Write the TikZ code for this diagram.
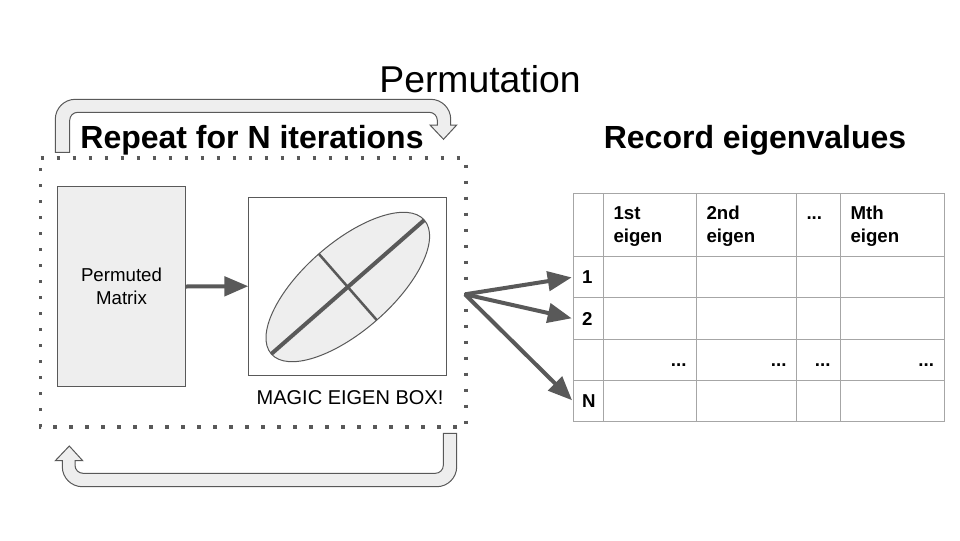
\documentclass[tikz,border=0pt]{standalone}
\usepackage{fontspec}
\setmainfont{Liberation Sans}
\usetikzlibrary{shapes.geometric,arrows.meta}
\definecolor{ink}{HTML}{595959}
\definecolor{soft}{HTML}{EEEEEE}
\definecolor{grid}{HTML}{A6A6A6}
\tikzset{
  px/.style={x=0.75pt,y=-0.75pt},
  boxed/.style={draw=ink,line width=0.75pt,outer sep=0pt,inner sep=0pt},
  softbox/.style={boxed,fill=soft},
  blockarrow/.style={draw=ink,fill=soft,line width=0.75pt,line join=miter},
  bigarrow/.style={draw=ink,line width=3pt,-{Triangle[length=18pt,width=14.5pt]},shorten >=1pt},
  flowarrow/.style={draw=ink,line width=3pt,-{Triangle[length=18pt,width=14.5pt]}},
  cellbox/.style={draw=grid,line width=0.75pt,outer sep=0pt,anchor=north west,inner ysep=0pt,
    font=\fontsize{14pt}{17pt}\selectfont\bfseries},
  colA/.style={text width=9.375pt,inner xsep=6.75pt},
  colB/.style={text width=54.75pt,inner xsep=7.5pt},
  colC/.style={text width=60pt,inner xsep=7.5pt},
  colD/.style={text width=18pt,inner xsep=7.5pt},
  colE/.style={text width=62.625pt,inner xsep=7.5pt},
  rowH/.style={minimum height=47.25pt},
  rowR/.style={minimum height=31.05pt},
  title/.style={font=\fontsize{24pt}{29pt}\selectfont\bfseries,inner sep=0pt},
}
\newcommand{\cellstrut}{\rule[-3pt]{0pt}{16pt}}
\newcommand{\headtop}{\rule{0pt}{13pt}}
\newcommand{\headbot}{\rule[-3.8pt]{0pt}{3.8pt}}
\begin{document}
\begin{tikzpicture}[px]
\useasboundingbox (0,0) rectangle (960,540);
% titles
\node[font=\fontsize{28pt}{34pt}\selectfont,inner sep=0pt] (perm) at (480,79.5) {Permutation};
\node[title] (repeat) at (252,140.5) {Repeat for N iterations};
\node[title] (record) at (755,140.5) {Record eigenvalues};
% dotted frame
\draw[draw=ink,line width=2.6pt,dash pattern=on 2.6pt off 9.4pt] (40.5,158) -- (466,158) -- (466,427) -- (40.5,427) -- cycle;
% loop arrows
\path[blockarrow] (55.3,152.3) [rounded corners=15pt] -- (55.3,99.3) -- (450.7,99.3) [sharp corners] -- (450.7,125) -- (456.7,125) -- (443.5,139.3) -- (430,125) -- (437.3,125) [rounded corners=6pt] -- (437.3,112.3) -- (69.7,112.3) [sharp corners] -- (69.7,152.3) -- cycle;
\path[blockarrow] (443.3,433.3) -- (456.7,433.3) [rounded corners=15pt] -- (456.7,486.7) -- (62.3,486.7) [sharp corners] -- (62.3,460.7) -- (55.3,460.7) -- (69.3,446) -- (82.7,460.7) -- (75,460.7) [rounded corners=6pt] -- (75,473.3) -- (443.3,473.3) [sharp corners] -- cycle;
% permuted matrix and box
\node[softbox,minimum width=96pt,minimum height=150pt,align=center,font=\fontsize{14pt}{17pt}\selectfont] (matrix) at (121.5,286.5) {Permuted\\Matrix};
\node[boxed,minimum width=148.5pt,minimum height=133.5pt] (magic) at (347.3,286.2) {};
\node[softbox,ellipse,minimum width=152.5pt,minimum height=66pt,rotate=41.2] (ell) at (347.8,287) {};
\draw[ink,line width=3pt] (ell.west) -- (ell.east);
\draw[ink,line width=1.9pt] (ell.north) -- (ell.south);
\node[font=\fontsize{15pt}{18pt}\selectfont,inner sep=0pt] (magiclabel) at (350,398) {MAGIC EIGEN BOX!};
\draw[flowarrow] (matrix.east) -- (magic.west);
% table
\node[cellbox,colA,rowH] (h0) at (573,193.5) {};
\node[cellbox,colB,rowH,align=left] (h1) at (603.5,193.5) {\headtop 1st\\eigen\headbot};
\node[cellbox,colC,rowH,align=left] (h2) at (696.5,193.5) {\headtop 2nd\\eigen\headbot};
\node[cellbox,colD,rowH,align=left] (h3) at (796.5,193.5) {\headtop ...\\\headbot};
\node[cellbox,colE,rowH,align=left] (h4) at (840.5,193.5) {\headtop Mth\\eigen\headbot};
\node[cellbox,colA,rowR,align=left] (a0) at (573,256.5) {\cellstrut 1};
\node[cellbox,colB,rowR] (a1) at (603.5,256.5) {};
\node[cellbox,colC,rowR] (a2) at (696.5,256.5) {};
\node[cellbox,colD,rowR] (a3) at (796.5,256.5) {};
\node[cellbox,colE,rowR] (a4) at (840.5,256.5) {};
\node[cellbox,colA,rowR,align=left] (b0) at (573,297.9) {\cellstrut 2};
\node[cellbox,colB,rowR] (b1) at (603.5,297.9) {};
\node[cellbox,colC,rowR] (b2) at (696.5,297.9) {};
\node[cellbox,colD,rowR] (b3) at (796.5,297.9) {};
\node[cellbox,colE,rowR] (b4) at (840.5,297.9) {};
\node[cellbox,colA,rowR] (c0) at (573,339.2) {};
\node[cellbox,colB,rowR,align=right] (c1) at (603.5,339.2) {\cellstrut ...};
\node[cellbox,colC,rowR,align=right] (c2) at (696.5,339.2) {\cellstrut ...};
\node[cellbox,colD,rowR,align=right] (c3) at (796.5,339.2) {\cellstrut ...};
\node[cellbox,colE,rowR,align=right] (c4) at (840.5,339.2) {\cellstrut ...};
\node[cellbox,colA,rowR,align=left] (d0) at (573,380.5) {\cellstrut N};
\node[cellbox,colB,rowR] (d1) at (603.5,380.5) {};
\node[cellbox,colC,rowR] (d2) at (696.5,380.5) {};
\node[cellbox,colD,rowR] (d3) at (796.5,380.5) {};
\node[cellbox,colE,rowR] (d4) at (840.5,380.5) {};
% fan
\coordinate (fan) at (465,294.3);
\draw[bigarrow] (fan) -- (a0.west);
\draw[bigarrow] (fan) -- (b0.west);
\draw[bigarrow] (fan) -- (d0.west);
\end{tikzpicture}
\end{document}
